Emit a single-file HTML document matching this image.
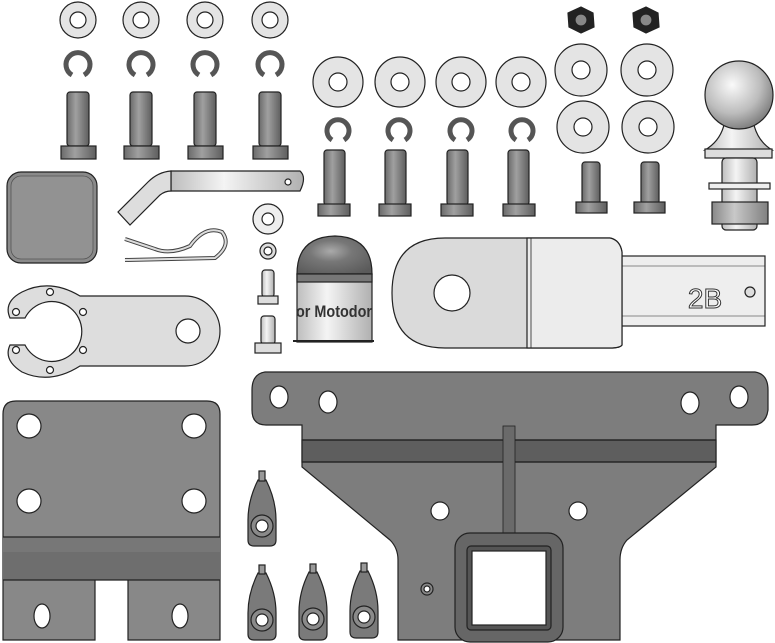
<!DOCTYPE html>
<html><head><meta charset="utf-8"><style>
html,body{margin:0;padding:0;background:#fff;width:775px;height:643px;overflow:hidden}
svg{display:block}
</style></head><body>
<svg width="775" height="643" viewBox="0 0 775 643" xmlns="http://www.w3.org/2000/svg">
<defs>
<linearGradient id="sh" x1="0" x2="1"><stop offset="0" stop-color="#6a6a6a"/><stop offset=".4" stop-color="#a0a0a0"/><stop offset="1" stop-color="#5e5e5e"/></linearGradient>
<linearGradient id="shl" x1="0" x2="1"><stop offset="0" stop-color="#bdbdbd"/><stop offset=".4" stop-color="#f4f4f4"/><stop offset="1" stop-color="#b0b0b0"/></linearGradient>
<linearGradient id="shm" x1="0" x2="1"><stop offset="0" stop-color="#888"/><stop offset=".4" stop-color="#c8c8c8"/><stop offset="1" stop-color="#808080"/></linearGradient>
<radialGradient id="ball" cx=".4" cy=".35" r=".7"><stop offset="0" stop-color="#fafafa"/><stop offset=".6" stop-color="#bcbcbc"/><stop offset="1" stop-color="#777"/></radialGradient>
<radialGradient id="cap" cx=".45" cy=".4" r=".7"><stop offset="0" stop-color="#aaa"/><stop offset=".4" stop-color="#777"/><stop offset="1" stop-color="#5a5a5a"/></radialGradient>
</defs>
<g stroke="#222" stroke-width="1.2">
<g fill="#e4e4e4">
<circle cx="78" cy="20" r="18"/><circle cx="141" cy="20" r="18"/><circle cx="205" cy="20" r="18"/><circle cx="270" cy="20" r="18"/>
</g>
<g fill="#fff"><circle cx="78" cy="20" r="8"/><circle cx="141" cy="20" r="8"/><circle cx="205" cy="20" r="8"/><circle cx="270" cy="20" r="8"/></g>
<g fill="none" stroke="#555" stroke-width="5">
<path d="M72 75 A12 12 0 1 1 84 75"/><path d="M135 75 A12 12 0 1 1 147 75"/><path d="M199 75 A12 12 0 1 1 211 75"/><path d="M264 75 A12 12 0 1 1 276 75"/>
<path d="M332 140 A11 11 0 1 1 344 140"/><path d="M393 140 A11 11 0 1 1 405 140"/><path d="M455 140 A11 11 0 1 1 467 140"/><path d="M516 140 A11 11 0 1 1 528 140"/>
</g>
<g fill="url(#sh)">
<rect x="67" y="92" width="22" height="54" rx="3"/><rect x="130" y="92" width="22" height="54" rx="3"/><rect x="194" y="92" width="22" height="54" rx="3"/><rect x="259" y="92" width="22" height="54" rx="3"/>
<rect x="61" y="146" width="35" height="13"/><rect x="124" y="146" width="35" height="13"/><rect x="188" y="146" width="35" height="13"/><rect x="253" y="146" width="35" height="13"/>
<rect x="324" y="150" width="21" height="55" rx="3"/><rect x="385" y="150" width="21" height="55" rx="3"/><rect x="447" y="150" width="21" height="55" rx="3"/><rect x="508" y="150" width="21" height="55" rx="3"/>
<rect x="318" y="204" width="32" height="12"/><rect x="379" y="204" width="32" height="12"/><rect x="441" y="204" width="32" height="12"/><rect x="503" y="204" width="32" height="12"/>
<rect x="582" y="162" width="18" height="42" rx="3"/><rect x="641" y="162" width="18" height="42" rx="3"/>
<rect x="576" y="202" width="31" height="11"/><rect x="634" y="202" width="31" height="11"/>
</g>
<g fill="#e4e4e4">
<circle cx="338" cy="82" r="25"/><circle cx="400" cy="82" r="25"/><circle cx="461" cy="82" r="25"/><circle cx="521" cy="82" r="25"/>
<circle cx="581" cy="70" r="26"/><circle cx="647" cy="70" r="26"/><circle cx="583" cy="127" r="26"/><circle cx="648" cy="127" r="26"/>
</g>
<g fill="#fff">
<circle cx="338" cy="82" r="9"/><circle cx="400" cy="82" r="9"/><circle cx="461" cy="82" r="9"/><circle cx="521" cy="82" r="9"/>
<circle cx="581" cy="70" r="9"/><circle cx="647" cy="70" r="9"/><circle cx="583" cy="127" r="9"/><circle cx="648" cy="127" r="9"/>
</g>
<polygon points="581,7 593,13 594,27 581,33 569,27 568,13" fill="#222"/><circle cx="581" cy="20" r="6" fill="#888"/>
<polygon points="646,7 658,13 659,27 646,33 634,27 633,13" fill="#222"/><circle cx="646" cy="20" r="6" fill="#888"/>
<path d="M725 120 Q722 140 705 150 L772 150 Q756 140 753 120 Z" fill="url(#shl)"/>
<circle cx="739" cy="95" r="34" fill="url(#ball)"/>
<rect x="705" y="149" width="67" height="9" fill="#ddd"/>
<rect x="722" y="158" width="35" height="72" rx="4" fill="url(#shl)"/>
<rect x="709" y="183" width="61" height="6" fill="#eee"/>
<rect x="712" y="202" width="56" height="22" fill="url(#shm)"/>
<rect x="7" y="172" width="90" height="91" rx="14" fill="#8a8a8a"/>
<rect x="11" y="176" width="82" height="83" rx="10" fill="#929292" stroke="#555" stroke-width=".8"/>
<path d="M171 171 L300 171 Q307 177 300 191 L171 191 Z" fill="url(#shl)"/>
<path d="M171 171 Q158 172 148 182 L118 212 L130 225 L160 195 Q165 191 171 191 Z" fill="#ddd"/>
<circle cx="288" cy="182" r="3" fill="#fff"/>
<path d="M125 239 L155 249 Q170 255 190 246 Q205 225 222 232 Q232 245 215 258 L125 260" fill="none" stroke="#444" stroke-width="4"/>
<path d="M125 239 L155 249 Q170 255 190 246 Q205 225 222 232 Q232 245 215 258 L125 260" fill="none" stroke="#ddd" stroke-width="2"/>
<circle cx="268" cy="219" r="15" fill="#eee"/><circle cx="268" cy="219" r="6" fill="#fff"/>
<circle cx="268" cy="251" r="8" fill="#ddd"/><circle cx="268" cy="251" r="4" fill="#fff"/>
<rect x="262" y="270" width="12" height="27" rx="3" fill="url(#shl)"/><rect x="258" y="296" width="20" height="8" fill="#ddd"/>
<rect x="261" y="316" width="14" height="28" rx="3" fill="url(#shl)"/><rect x="255" y="343" width="26" height="10" fill="#ddd"/>
<path d="M297 274 Q297 237 335 236 Q372 237 372 274 Z" fill="url(#cap)"/>
<rect x="297" y="274" width="75" height="68" fill="url(#shl)"/>
<rect x="297" y="274" width="75" height="8" fill="#777"/>
<line x1="293" y1="341" x2="374" y2="341" stroke-width="2"/>
<path d="M22 292 Q50 278 80 296 L185 296 A35 35 0 0 1 185 366 L80 366 Q50 385 22 372 Q3 360 10 345 L25 345 A30 30 0 1 0 25 318 L10 318 Q3 302 22 292 Z" fill="#ddd"/>
<circle cx="188" cy="331" r="12" fill="#fff"/>
<g fill="#fff"><circle cx="50" cy="292" r="3.5"/><circle cx="16" cy="312" r="3.5"/><circle cx="83" cy="312" r="3.5"/><circle cx="16" cy="350" r="3.5"/><circle cx="83" cy="350" r="3.5"/><circle cx="50" cy="370" r="3.5"/></g>
<rect x="620" y="256" width="145" height="70" fill="#eee"/>
<line x1="620" y1="266" x2="765" y2="266" stroke-width=".6"/><line x1="620" y1="316" x2="765" y2="316" stroke-width=".6"/>
<path d="M445 238 L610 238 Q620 240 622 252 L622 345 Q620 348 610 348 L445 348 Q392 348 392 293 Q392 238 445 238 Z" fill="#dadada"/>
<path d="M527 238 L610 238 Q620 240 622 252 L622 345 Q620 348 610 348 L527 348 Z" fill="#ececec"/>
<line x1="531" y1="238" x2="531" y2="348" stroke-width=".8"/>
<circle cx="452" cy="293" r="18" fill="#fff"/>
<circle cx="750" cy="292" r="5" fill="#ddd"/>
<path d="M3 414 Q3 401 16 401 L207 401 Q220 401 220 414 L220 640 L128 640 L128 575 L95 575 L95 640 L3 640 Z" fill="#888"/>
<rect x="3" y="537" width="217" height="15" fill="#777" stroke="none"/>
<rect x="3" y="552" width="217" height="28" fill="#6e6e6e" stroke="none"/>
<line x1="3" y1="537" x2="220" y2="537"/><line x1="3" y1="580" x2="220" y2="580"/>
<g fill="#fff"><circle cx="29" cy="426" r="12"/><circle cx="194" cy="426" r="12"/><circle cx="29" cy="501" r="12"/><circle cx="194" cy="501" r="12"/>
<ellipse cx="42" cy="616" rx="8" ry="12"/><ellipse cx="180" cy="616" rx="8" ry="12"/></g>
<path d="M265 372 L755 372 Q768 374 768 390 L768 410 Q766 425 752 425 L716 425 L716 467 L627 540 Q620 548 620 560 L620 640 L398 640 L398 560 Q398 548 390 540 L302 467 L302 425 L266 425 Q252 425 252 410 L252 390 Q252 374 265 372 Z" fill="#7d7d7d"/>
<rect x="302" y="440" width="414" height="22" fill="#5e5e5e"/>
<line x1="302" y1="440" x2="716" y2="440"/><line x1="302" y1="462" x2="716" y2="462"/>
<rect x="503" y="426" width="12" height="108" fill="#6a6a6a" stroke-width=".8"/>
<g fill="#fff"><ellipse cx="279" cy="397" rx="9" ry="11"/><ellipse cx="328" cy="402" rx="9" ry="11"/><ellipse cx="690" cy="403" rx="9" ry="11"/><ellipse cx="739" cy="397" rx="9" ry="11"/>
<circle cx="440" cy="511" r="9"/><circle cx="578" cy="511" r="9"/></g>
<circle cx="427" cy="589" r="6" fill="#888"/><circle cx="427" cy="589" r="3" fill="#fff"/>
<rect x="455" y="533" width="108" height="109" rx="15" fill="#666"/>
<rect x="467" y="546" width="84" height="84" rx="4" fill="#555"/>
<rect x="472" y="551" width="74" height="74" fill="#fff"/>
<g fill="#7a7a7a">
<path d="M258 480 L266 480 Q276 500 276 520 L276 540 Q276 546 270 546 L254 546 Q248 546 248 540 L248 520 Q248 500 258 480 Z"/>
<path d="M258 573 L266 573 Q276 593 276 613 L276 634 Q276 640 270 640 L254 640 Q248 640 248 634 L248 613 Q248 593 258 573 Z"/>
<path d="M309 572 L317 572 Q327 592 327 612 L327 634 Q327 640 321 640 L305 640 Q299 640 299 634 L299 612 Q299 592 309 572 Z"/>
<path d="M360 571 L368 571 Q378 591 378 611 L378 632 Q378 638 372 638 L356 638 Q350 638 350 632 L350 611 Q350 591 360 571 Z"/>
</g>
<g fill="#999"><rect x="259" y="471" width="6" height="10"/><rect x="259" y="565" width="6" height="9"/><rect x="310" y="564" width="6" height="9"/><rect x="361" y="563" width="6" height="9"/></g>
<g fill="#8a8a8a"><circle cx="262" cy="526" r="11"/><circle cx="262" cy="620" r="11"/><circle cx="313" cy="619" r="11"/><circle cx="364" cy="617" r="11"/></g>
<g fill="#fff"><circle cx="262" cy="526" r="6"/><circle cx="262" cy="620" r="6"/><circle cx="313" cy="619" r="6"/><circle cx="364" cy="617" r="6"/></g>
</g>
<text x="334" y="317" text-anchor="middle" font-family="Liberation Sans, sans-serif" font-weight="bold" font-size="17" fill="#333" textLength="76" lengthAdjust="spacingAndGlyphs">or Motodor</text>
<text x="705" y="308" text-anchor="middle" font-family="Liberation Sans, sans-serif" font-size="28" fill="#fff" stroke="#333" stroke-width="1">2B</text>
</svg>
</body></html>
